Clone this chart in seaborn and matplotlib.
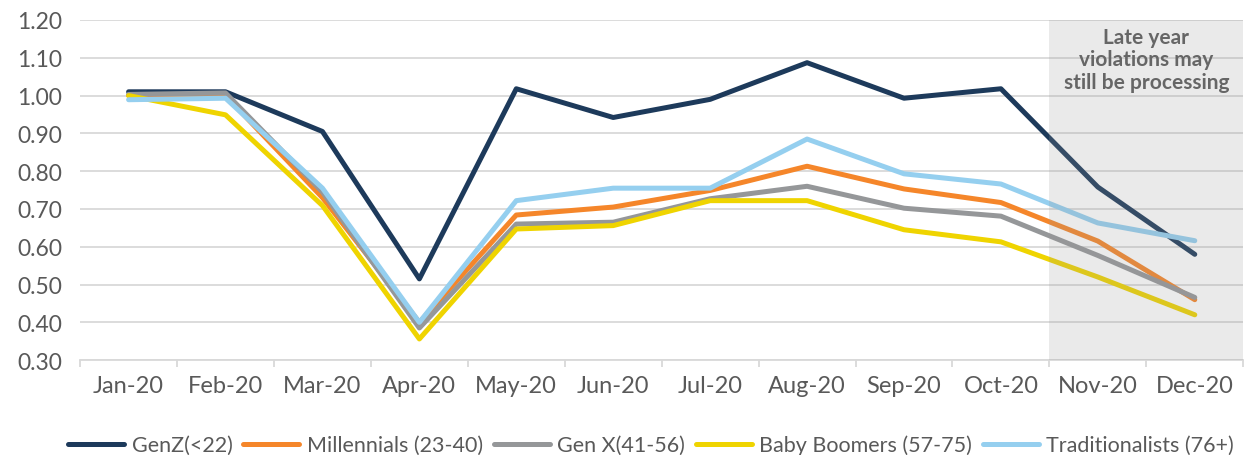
import pandas as pd
import matplotlib
matplotlib.use("Agg")
import matplotlib.pyplot as plt
import seaborn as sns
from matplotlib.ticker import FixedLocator

# Datos
meses = ["Jan-20", "Feb-20", "Mar-20", "Apr-20", "May-20", "Jun-20",
         "Jul-20", "Aug-20", "Sep-20", "Oct-20", "Nov-20", "Dec-20"]
genz = [1.01, 1.01, 0.905, 0.515, 1.018, 0.942, 0.99, 1.087, 0.993, 1.018, 0.758, 0.58]
millennials = [1.00, 1.00, 0.73, 0.40, 0.684, 0.705, 0.749, 0.813, 0.753, 0.717, 0.615, 0.46]
genx = [1.003, 1.007, 0.745, 0.385, 0.66, 0.665, 0.727, 0.76, 0.702, 0.681, 0.577, 0.466]
boomers = [1.00, 0.949, 0.709, 0.356, 0.647, 0.656, 0.722, 0.722, 0.645, 0.613, 0.52, 0.42]
tradicionales = [0.989, 0.993, 0.755, 0.40, 0.722, 0.755, 0.755, 0.885, 0.793, 0.766, 0.663, 0.616]

series = {
    "GenZ(<22)": genz,
    "Millennials (23-40)": millennials,
    "Gen X(41-56)": genx,
    "Baby Boomers (57-75)": boomers,
    "Traditionalists (76+)": tradicionales,
}
colores = ["#1D3A5B", "#F5862A", "#959799", "#EFD400", "#95CFEF"]

df = pd.concat(
    [pd.DataFrame({"mes": meses, "valor": v, "grupo": k}) for k, v in series.items()],
    ignore_index=True,
)

sns.set_theme(style="white")
plt.rcParams["font.family"] = ["Lato", "DejaVu Sans"]

fig, ax = plt.subplots(figsize=(12.52, 4.56), dpi=100)
fig.subplots_adjust(left=0.064, right=0.993, top=0.954, bottom=0.208)

sns.lineplot(data=df, x="mes", y="valor", hue="grupo", palette=colores,
             sort=False, linewidth=3.6, ax=ax, legend=True)

# Zona sombreada de los ultimos meses (encima de las lineas, muy transparente)
ax.axvspan(9.5, 11.5, color="#969696", alpha=0.2, zorder=5, lw=0)
ax.text(10.5, 1.182, "Late year\nviolations may\nstill be processing", ha="center", va="top",
        fontsize=15, fontweight="bold", color="#666666", linespacing=1.15, zorder=6)

ax.set_ylim(0.30, 1.20)
ax.set_xlim(-0.5, 11.5)
ax.set_yticks([0.30 + 0.1 * i for i in range(10)])
ax.set_yticklabels([f"{0.30 + 0.1 * i:.2f}" for i in range(10)])
ax.yaxis.grid(True, color="#D9D9D9", linewidth=1.3)
ax.set_axisbelow(True)
ax.set_xlabel("")
ax.set_ylabel("")

for s in ["top", "right", "left"]:
    ax.spines[s].set_visible(False)
ax.spines["bottom"].set_color("#D9D9D9")
ax.spines["bottom"].set_linewidth(1.3)

ax.xaxis.set_minor_locator(FixedLocator([i - 0.5 for i in range(13)]))
ax.tick_params(axis="x", which="minor", length=5, width=1.3, color="#D9D9D9", bottom=True)
ax.tick_params(axis="x", which="major", length=0, pad=11, labelsize=17, labelcolor="#595959")
ax.tick_params(axis="y", length=0, pad=13, labelsize=16.5, labelcolor="#595959")

handles, labels = ax.get_legend_handles_labels()
ax.get_legend().remove()
fig.legend(handles, labels, loc="center", bbox_to_anchor=(0.52, 0.022), ncol=5,
           frameon=False, fontsize=15.5, handlelength=2.6, handletextpad=0.35,
           columnspacing=0.5, labelcolor="#595959")

plt.savefig("out.png", dpi=100)
